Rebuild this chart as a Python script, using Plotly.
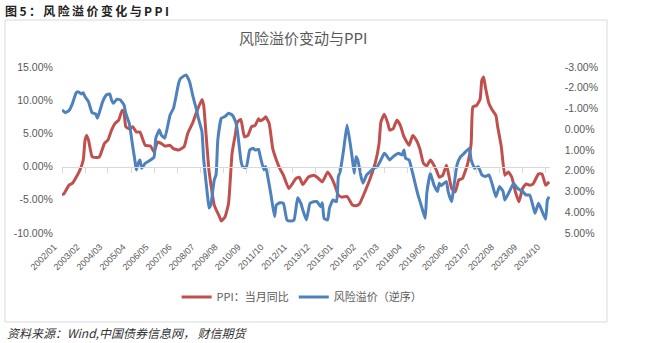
import plotly.graph_objects as go

# ---------------- data ----------------
ppi_dates = ["2002-01","2002-02","2002-05","2002-07","2002-09","2002-11","2003-01","2003-02","2003-03","2003-04",
             "2003-06","2003-07","2003-10","2003-11","2004-01","2004-03","2004-05","2004-07","2004-09","2004-11",
             "2004-12","2005-01","2005-03","2005-05","2005-07","2005-09","2005-12","2006-03","2006-05","2006-07",
             "2006-09","2006-11","2007-02","2007-04","2007-07","2007-10","2007-12","2008-03","2008-05","2008-08",
             "2008-09","2008-10","2008-12","2009-03","2009-06","2009-07","2009-09","2009-11","2010-01","2010-03",
             "2010-04","2010-06","2010-08","2010-10","2010-12","2011-02","2011-04","2011-05","2011-07","2011-08",
             "2011-10","2011-12","2012-02","2012-04","2012-06","2012-09","2012-11","2013-01","2013-03","2013-05",
             "2013-08","2013-11","2014-01","2014-04","2014-07","2014-09","2014-11","2015-01","2015-03","2015-06",
             "2015-09","2015-11","2016-01","2016-04","2016-07","2016-10","2016-12","2017-01","2017-03","2017-05",
             "2017-06","2017-08","2017-10","2017-12","2018-02","2018-05","2018-07","2018-09","2018-11","2019-01",
             "2019-03","2019-05","2019-08","2019-10","2019-12","2020-02","2020-03","2020-05","2020-07","2020-09",
             "2020-11","2021-02","2021-04","2021-05","2021-07","2021-09","2021-10","2021-11","2021-12","2022-02",
             "2022-04","2022-06","2022-07","2022-09","2022-11","2023-01","2023-03","2023-05","2023-07","2023-09",
             "2023-11","2024-01","2024-03","2024-06","2024-08","2024-10","2024-12"]
ppi_values = [-4.2,-4.1,-2.8,-2.5,-1.6,-0.6,1.0,4.0,4.7,4.0,
              1.5,1.4,1.4,2.0,3.5,4.0,5.5,6.5,7.0,8.5,
              8.2,6.0,5.7,6.0,5.2,5.2,3.2,3.1,2.2,3.7,
              3.5,3.1,3.2,2.7,2.5,3.0,5.0,6.7,8.2,10.1,
              9.2,6.0,-0.6,-5.8,-7.6,-8.2,-7.6,-5.6,2.0,5.0,
              6.7,7.1,4.5,4.7,6.0,6.2,7.2,6.9,7.2,7.5,
              6.5,2.7,1.0,-0.3,-1.3,-3.3,-2.6,-1.8,-1.6,-2.7,
              -1.6,-1.3,-1.6,-2.3,-0.8,-1.6,-2.8,-4.3,-4.6,-4.5,
              -5.8,-5.9,-5.6,-3.8,-1.8,0.7,3.5,6.7,7.9,6.5,
              5.5,5.7,7.0,6.2,4.5,3.2,4.7,4.0,2.7,0.5,
              0.1,1.0,-0.3,-1.6,-1.3,0.2,-0.8,-3.3,-3.8,-2.0,
              -1.8,0.5,3.5,9.0,9.2,10.1,13.0,13.5,12.0,9.5,
              8.5,7.7,6.0,3.0,-1.3,-0.8,-1.6,-3.8,-5.3,-3.3,
              -2.6,-2.8,-2.6,-1.1,-1.1,-2.8,-2.3]

rp_dates = ["2002-01","2002-03","2002-05","2002-07","2002-09","2002-10","2002-12","2003-01","2003-02","2003-04",
            "2003-06","2003-08","2003-09","2003-10","2003-12","2004-02","2004-04","2004-05","2004-06","2004-08",
            "2004-10","2004-12","2005-01","2005-03","2005-05","2005-06","2005-07","2005-08","2005-09","2005-10",
            "2005-12","2006-03","2006-05","2006-06","2006-08","2006-09","2006-11","2007-02","2007-04","2007-05",
            "2007-07","2007-08","2007-11","2008-01","2008-03","2008-05","2008-06","2008-08","2008-09","2008-11",
            "2008-12","2009-01","2009-03","2009-04","2009-05","2009-07","2009-09","2009-11","2010-01","2010-03",
            "2010-04","2010-06","2010-07","2010-09","2010-11","2011-01","2011-02","2011-04","2011-05","2011-07",
            "2011-08","2011-09","2011-11","2012-01","2012-02","2012-04","2012-06","2012-08","2012-10","2012-12",
            "2013-02","2013-04","2013-05","2013-07","2013-09","2013-11","2014-01","2014-03","2014-04","2014-05",
            "2014-07","2014-08","2014-10","2014-12","2015-01","2015-02","2015-04","2015-05","2015-06","2015-08",
            "2015-09","2015-10","2015-11","2015-12","2016-02","2016-03","2016-05","2016-07","2016-09","2016-11",
            "2017-01","2017-03","2017-04","2017-06","2017-08","2017-11","2018-01","2018-02","2018-03","2018-05",
            "2018-07","2018-09","2018-10","2018-12","2019-02","2019-03","2019-05","2019-07","2019-09","2019-10",
            "2019-11","2020-02","2020-03","2020-05","2020-06","2020-08","2020-10","2020-12","2021-03","2021-04",
            "2021-06","2021-08","2021-10","2021-12","2022-02","2022-04","2022-06","2022-08","2022-10","2022-11",
            "2023-02","2023-04","2023-06","2023-09","2023-11","2024-01","2024-03","2024-04","2024-06","2024-07",
            "2024-10","2024-11","2024-12"]
rp_values = [-0.93,-0.80,-0.90,-1.25,-1.76,-1.81,-1.70,-1.76,-1.57,-1.33,
             -0.80,-0.74,-0.53,-0.77,-1.33,-1.65,-1.70,-1.41,-1.25,-1.45,
             -1.41,-1.17,-0.77,-0.29,0.84,1.40,1.96,1.64,1.48,1.88,
             1.64,1.48,1.35,0.43,0.03,0.27,0.43,-0.69,-1.01,-1.40,
             -2.25,-2.45,-2.62,-2.30,-1.57,-0.93,-0.53,0.11,1.48,3.09,
             3.80,3.65,2.44,2.20,0.51,-0.53,-0.61,-0.77,-0.69,-0.37,
             0.03,1.48,1.80,1.85,1.00,0.92,1.00,0.97,1.32,1.96,
             1.80,2.20,3.17,4.21,3.65,3.54,3.57,4.37,4.42,4.37,
             3.30,3.60,3.89,4.37,3.57,3.49,3.49,3.73,3.54,4.29,
             4.37,3.81,3.41,3.49,2.28,2.04,1.00,0.36,-0.21,0.84,
             1.48,2.12,1.32,1.48,2.36,2.60,2.20,2.04,1.88,1.80,
             1.48,1.16,1.24,1.48,1.32,1.16,1.24,1.00,1.40,1.48,
             2.12,2.84,3.17,3.73,4.29,3.09,2.12,2.68,3.00,2.60,
             2.72,2.52,3.00,3.49,2.92,1.72,1.32,1.16,0.92,1.48,
             1.88,1.80,2.20,2.28,2.20,2.68,3.25,2.76,3.00,3.41,
             2.92,2.60,2.84,3.00,3.17,3.17,3.73,4.05,3.57,3.73,
             4.34,3.41,3.25]

x_tick_labels = ["2002/01","2003/02","2004/03","2005/04","2006/05","2007/06","2008/07","2009/08",
                 "2010/09","2011/10","2012/11","2013/12","2015/01","2016/02","2017/03","2018/04",
                 "2019/05","2020/06","2021/07","2022/08","2023/09","2024/10"]
left_tick_labels = ["15.00%","10.00%","5.00%","0.00%","-5.00%","-10.00%"]
right_tick_labels = ["-3.00%","-2.00%","-1.00%","0.00%","1.00%","2.00%","3.00%","4.00%","5.00%"]

series_names = ["PPI：当月同比", "风险溢价（逆序）"]
chart_title = "风险溢价变动与PPI"
heading = "图5：风险溢价变化与PPI"
source_note = "资料来源：Wind,中国债券信息网， 财信期货"

# ---------------- derived ----------------
x_tick_vals = [lab.replace("/", "-") + "-01" for lab in x_tick_labels]
left_tick_vals = [float(t.rstrip("%")) for t in left_tick_labels]
right_tick_vals = [float(t.rstrip("%")) for t in right_tick_labels]
x_range = ["2002-01-01", "2024-12-16"]

RED = "#C0504D"
BLUE = "#4F81BD"
GRAY = "#595959"
AXIS = "#D9D9D9"
CJK = "Noto Sans CJK SC"
NUM = "Liberation Sans, Arial, sans-serif"
DOM = [0, 0.9004]

fig = go.Figure()
fig.add_trace(go.Scatter(x=ppi_dates, y=ppi_values, name=series_names[0], mode="lines",
                         line=dict(color=RED, width=3, shape="spline", smoothing=0.4),
                         xaxis="x", yaxis="y"))
fig.add_trace(go.Scatter(x=rp_dates, y=rp_values, name=series_names[1], mode="lines",
                         line=dict(color=BLUE, width=3, shape="spline", smoothing=0.4),
                         xaxis="x", yaxis="y2"))
# empty helper trace so the label axis is rendered
fig.add_trace(go.Scatter(x=[], y=[], xaxis="x2", yaxis="y", showlegend=False, hoverinfo="skip"))

fig.update_layout(
    width=649, height=343,
    margin=dict(l=62, r=45, t=67, b=110),
    paper_bgcolor="white", plot_bgcolor="white",
    showlegend=True,
    legend=dict(orientation="h", x=0.443, xanchor="center", y=-0.386, yanchor="middle",
                font=dict(family=CJK, size=11, color=GRAY), itemwidth=30,
                tracegroupgap=0, bgcolor="rgba(0,0,0,0)"),
    xaxis=dict(type="date", domain=DOM, range=x_range, tickvals=x_tick_vals,
               anchor="free", position=0.4, showticklabels=False, ticks="outside", ticklen=5,
               tickcolor=AXIS, showline=True, linecolor=AXIS, linewidth=1, showgrid=False, zeroline=False),
    xaxis2=dict(type="date", domain=DOM, range=x_range, tickvals=x_tick_vals, ticktext=x_tick_labels,
                overlaying="x", anchor="y", side="bottom",
                tickangle=-45, tickfont=dict(family=NUM, size=9, color=GRAY),
                ticklabelshift=-8, ticklabelstandoff=6,
                showline=False, showgrid=False, zeroline=False, ticks=""),
    yaxis=dict(range=[-10, 15], tickvals=left_tick_vals, ticktext=left_tick_labels,
               tickfont=dict(family=NUM, size=10.5, color=GRAY), showgrid=False, zeroline=False,
               showline=False, ticks="outside", ticklen=6, tickcolor="rgba(0,0,0,0)"),
    yaxis2=dict(range=[5, -3], tickvals=right_tick_vals, ticktext=right_tick_labels, overlaying="y",
                side="right", anchor="free", position=0.92,
                tickfont=dict(family=NUM, size=10.5, color=GRAY), showgrid=False, zeroline=False,
                showline=False, ticks="outside", ticklen=1, tickcolor="rgba(0,0,0,0)"),
)

# border box
fig.add_shape(type="rect", xref="paper", yref="paper", x0=-0.1052, x1=1.0055, y0=-0.536, y1=1.283,
              line=dict(color=AXIS, width=1), fillcolor="rgba(0,0,0,0)", layer="below")

fig.add_annotation(text=chart_title, xref="paper", yref="paper", x=0.445, y=1.175,
                   xanchor="center", yanchor="middle", showarrow=False,
                   font=dict(family=CJK, size=15, color=GRAY))
fig.add_annotation(text="<b>" + "\u2009".join(heading) + "</b>", xref="paper", yref="paper",
                   x=-0.108, y=1.343, xanchor="left", yanchor="middle", showarrow=False,
                   font=dict(family=CJK, size=12, color="#222222"))
fig.add_annotation(text="<i>" + source_note + "</i>", xref="paper", yref="paper",
                   x=-0.105, y=-0.602, xanchor="left", yanchor="middle", showarrow=False,
                   font=dict(family=CJK, size=12, color="#333333"))

fig.write_html("out.html")
